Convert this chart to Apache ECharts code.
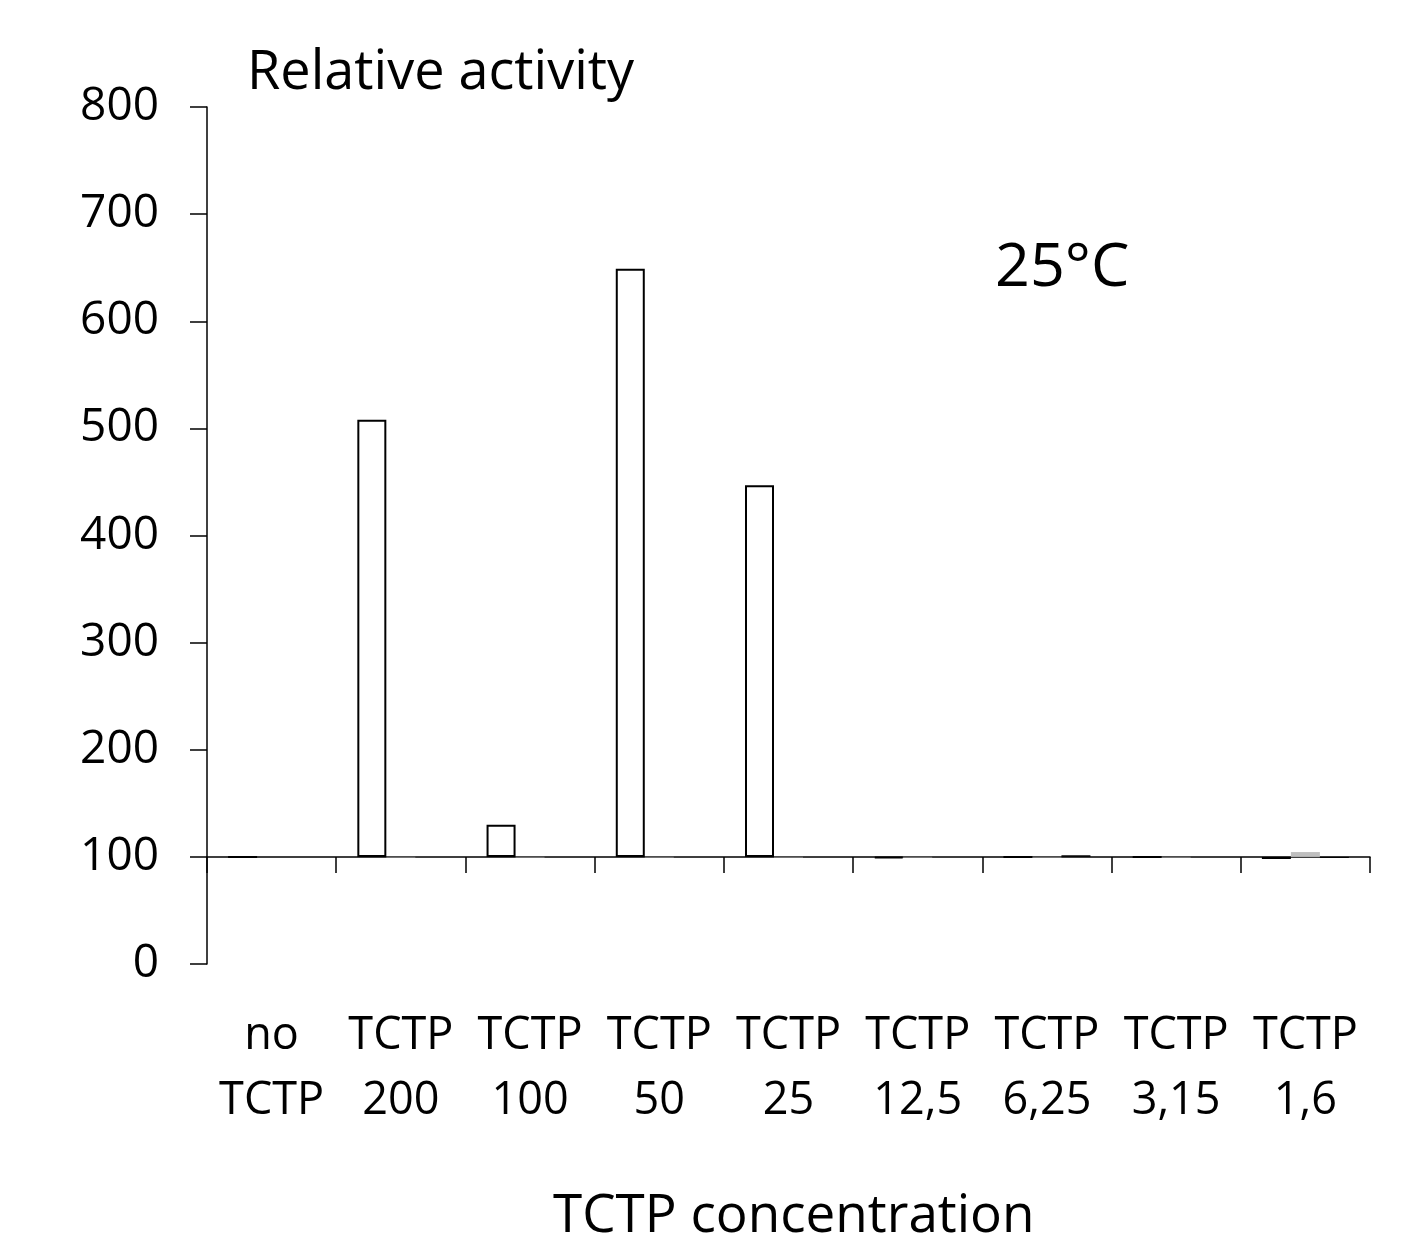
<!DOCTYPE html>
<html>
<head>
<meta charset="utf-8">
<script src="https://cdn.jsdelivr.net/npm/echarts@6/dist/echarts.min.js"></script>
<style>
  html, body { margin: 0; padding: 0; background: #fff; }
  #chart { width: 1414px; height: 1239px; }
</style>
</head>
<body>
<div id="chart"></div>
<script>
  // categories (two-line labels)
  var categories = ['no\nTCTP', 'TCTP\n200', 'TCTP\n100', 'TCTP\n50', 'TCTP\n25', 'TCTP\n12,5', 'TCTP\n6,25', 'TCTP\n3,15', 'TCTP\n1,6'];
  // relative activity
  var whiteSeries = [100, 508, 130, 649, 447, 99, 100, 100, 98];
  var greySeries  = [100, 99.5, 99.5, 99.5, 99.5, 99.5, 99.5, 99.5, 104.5];
  var blackSeries = [100, 100, 100, 100, 100, 100, 101.5, 100, 99];
  // bars grow from the 100 line
  var baseLine = 100;
  var yMin = 0, yMax = 800, yStep = 100;

  var FONT = '"Open Sans", "Noto Sans", sans-serif';

  function shift(arr) {
    return arr.map(function (v) { return +(v - baseLine).toFixed(3); });
  }

  var chart = echarts.init(document.getElementById('chart'));

  var option = {
    backgroundColor: '#ffffff',
    animation: false,
    grid: { left: 207, right: 44, top: 107, bottom: 275 },
    xAxis: {
      type: 'category',
      data: categories,
      axisLine: { onZero: true, lineStyle: { color: '#000', width: 1.5 } },
      axisTick: { show: true, length: 16, lineStyle: { color: '#000', width: 1.5 } },
      axisLabel: {
        color: '#000',
        fontFamily: FONT,
        fontSize: 45,
        lineHeight: 65,
        margin: 40,
        interval: 0
      }
    },
    yAxis: {
      type: 'value',
      min: yMin - baseLine,
      max: yMax - baseLine,
      interval: yStep,
      splitLine: { show: false },
      axisLine: { show: true, lineStyle: { color: '#000', width: 1.5 } },
      axisTick: { show: true, length: 17, lineStyle: { color: '#000', width: 1.5 } },
      axisLabel: {
        color: '#000',
        fontFamily: FONT,
        fontSize: 46,
        margin: 48,
        formatter: function (v) { return String(v + baseLine); }
      }
    },
    series: [
      {
        type: 'bar',
        data: shift(whiteSeries),
        barWidth: 29,
        barGap: '0%',
        itemStyle: { color: '#ffffff', borderColor: '#000', borderWidth: 2 }
      },
      {
        type: 'bar',
        data: shift(greySeries),
        barWidth: 29,
        barGap: '0%',
        itemStyle: { color: '#bfbfbf' }
      },
      {
        type: 'bar',
        data: shift(blackSeries),
        barWidth: 29,
        barGap: '0%',
        itemStyle: { color: '#000000' }
      }
    ],
    graphic: [
      {
        type: 'text', left: 247, top: 47,
        style: { text: 'Relative activity', fill: '#000', font: '54px ' + FONT }
      },
      {
        type: 'text', left: 995, top: 238,
        style: { text: '25°C', fill: '#000', font: '61px ' + FONT }
      },
      {
        type: 'text', left: 553, top: 1190,
        style: { text: 'TCTP concentration', fill: '#000', font: '53px ' + FONT }
      }
    ]
  };

  chart.setOption(option);
</script>
</body>
</html>
